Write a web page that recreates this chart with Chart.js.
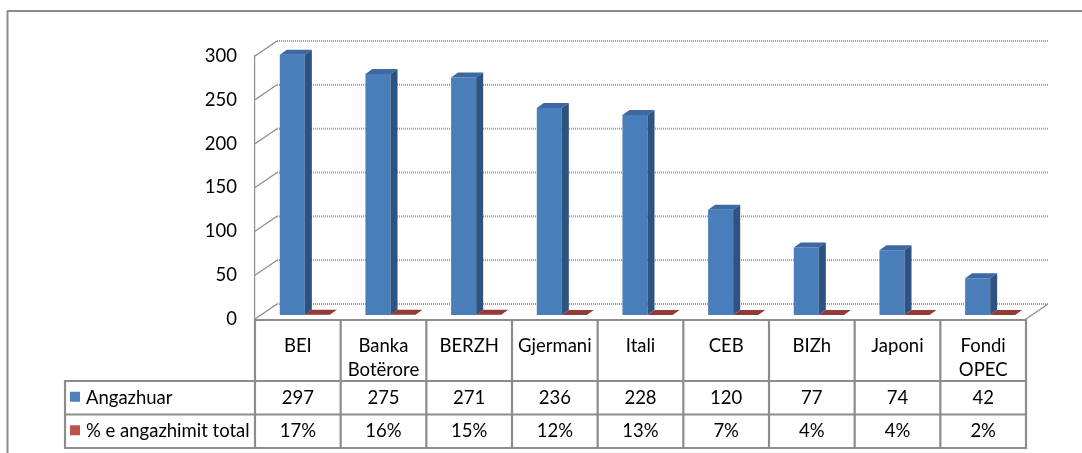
<!DOCTYPE html>
<html>
<head>
<meta charset="utf-8">
<script src="https://cdn.jsdelivr.net/npm/chart.js@4.4.1/dist/chart.umd.min.js"></script>
<style>
  html, body { margin: 0; padding: 0; background: #fff; }
  #wrap { width: 1082px; height: 453px; }
</style>
</head>
<body>
<div id="wrap"><canvas id="chart" width="1082" height="453"></canvas></div>
<script>
const categorias = ["BEI", ["Banka", "Botërore"], "BERZH", "Gjermani", "Itali", "CEB", "BIZh", "Japoni", ["Fondi", "OPEC"]];
const angazhuar  = [297, 275, 271, 236, 228, 120, 77, 74, 42];
const perqindja  = [0.17, 0.16, 0.15, 0.12, 0.13, 0.07, 0.04, 0.04, 0.02];
const yTicks     = [0, 50, 100, 150, 200, 250, 300];
const seriNames  = ["Angazhuar", "% e angazhimit total"];

const CORES = {
  blue:     "#4a7ebb",
  blueTop:  "#3d68a2",
  blueSide: "#2e5382",
  red:      "#943a36",
  redTop:   "#943a36",
  keyBlue:  "#4f81bd",
  keyRed:   "#c0504d",
  grid:     "#9a9a9a",
  axis:     "#8a8a8a",
  table:    "#8c8c8c",
  text:     "#000000",
};

const FONT      = "Lato";
const FONT_SIZE = 18.5;
const WALL      = { x: 22, y: -15 };  // back wall offset
const BAR_SHIFT = { x: 7,  y: -4 };   // bars sit a bit behind the front plane
const BAR_DEPTH = { x: 7,  y: -5 };
const TABLE     = { catH: 61, rowH: 33.5, keyLeft: 65 };

function poly(ctx, pts, color) {
  ctx.fillStyle = color;
  ctx.beginPath();
  ctx.moveTo(pts[0][0], pts[0][1]);
  pts.slice(1).forEach(p => ctx.lineTo(p[0], p[1]));
  ctx.closePath();
  ctx.fill();
}

function line(ctx, x1, y1, x2, y2) {
  ctx.beginPath();
  ctx.moveTo(x1, y1);
  ctx.lineTo(x2, y2);
  ctx.stroke();
}

const pamje3d = {
  id: "pamje3d",
  beforeDraw(chart) {
    const ctx = chart.ctx;
    ctx.save();
    ctx.strokeStyle = CORES.table;
    ctx.lineWidth = 2;
    line(ctx, 7, 11, chart.width, 11);
    line(ctx, 7.5, 11, 7.5, chart.height);
    ctx.restore();
  },
  beforeDatasetsDraw(chart) {
    const { ctx, chartArea: a, scales: { y } } = chart;
    ctx.save();
    ctx.strokeStyle = CORES.grid;
    ctx.lineWidth = 2;
    ctx.setLineDash([1, 1]);
    yTicks.forEach(v => {
      const py = y.getPixelForValue(v) + WALL.y;
      line(ctx, a.left + WALL.x, py, a.right + WALL.x, py);
    });
    ctx.setLineDash([]);
    ctx.strokeStyle = CORES.axis;
    ctx.lineWidth = 1.2;
    yTicks.forEach(v => {
      const py = y.getPixelForValue(v);
      line(ctx, a.left, py, a.left + WALL.x, py + WALL.y);
    });
    line(ctx, a.right, a.bottom, a.right + WALL.x, a.bottom + WALL.y);
    ctx.restore();

    ctx.save();
    ctx.translate(BAR_SHIFT.x, BAR_SHIFT.y);
  },
  afterDatasetsDraw(chart) {
    const ctx = chart.ctx;
    chart.data.datasets.forEach((ds, i) => {
      chart.getDatasetMeta(i).data.forEach(bar => {
        const { x, y, base, width } = bar.getProps(["x", "y", "base", "width"], true);
        const l = x - width / 2, r = x + width / 2;
        const dx = BAR_DEPTH.x, dy = BAR_DEPTH.y;
        poly(ctx, [[l, y], [r, y], [r + dx, y + dy], [l + dx, y + dy]], ds.topColor);
        if (base - y > 1) {
          poly(ctx, [[r, y], [r + dx, y + dy], [r + dx, base + dy], [r, base]], ds.sideColor);
        }
      });
    });
    ctx.restore();
  },
  afterDraw(chart) {
    const { ctx, chartArea: a, scales: { x } } = chart;
    const colW = (a.right - a.left) / categorias.length;
    const r0 = a.bottom + 1;
    const r1 = r0 + TABLE.catH;
    const r2 = r1 + TABLE.rowH;
    const r3 = r2 + TABLE.rowH;

    ctx.save();
    ctx.strokeStyle = CORES.table;
    ctx.lineWidth = 2.2;
    line(ctx, a.left, r0, a.right, r0);
    [r1, r2, r3].forEach(ry => line(ctx, TABLE.keyLeft, ry, a.right, ry));
    for (let i = 0; i <= categorias.length; i++) {
      const cx = a.left + i * colW;
      line(ctx, cx, r0 - 1, cx, r3 + 1);
    }
    line(ctx, TABLE.keyLeft, r1 - 1, TABLE.keyLeft, r3 + 1);

    ctx.font = `${FONT_SIZE}px ${FONT}`;
    ctx.fillStyle = CORES.text;
    ctx.textBaseline = "middle";
    ctx.textAlign = "center";
    const mid1 = (r1 + r2) / 2, mid2 = (r2 + r3) / 2;
    categorias.forEach((_, i) => {
      const px = x.getPixelForValue(i);
      ctx.fillText(String(angazhuar[i]), px, mid1);
      ctx.fillText(Math.round(perqindja[i] * 100) + "%", px, mid2);
    });

    // legend keys inside the table
    ctx.textAlign = "left";
    [[seriNames[0], CORES.keyBlue, mid1], [seriNames[1], CORES.keyRed, mid2]].forEach(([txt, c, my]) => {
      ctx.fillStyle = c;
      ctx.fillRect(TABLE.keyLeft + 5, my - 6, 10, 10);
      ctx.fillStyle = CORES.text;
      ctx.fillText(txt, TABLE.keyLeft + 21, my);
    });
    ctx.restore();
  }
};

new Chart(document.getElementById("chart"), {
  type: "bar",
  data: {
    labels: categorias,
    datasets: [
      {
        label: seriNames[0],
        data: angazhuar,
        backgroundColor: CORES.blue,
        topColor: CORES.blueTop,
        sideColor: CORES.blueSide,
        categoryPercentage: 0.585,
        barPercentage: 1,
      },
      {
        label: seriNames[1],
        data: perqindja,
        backgroundColor: CORES.red,
        topColor: CORES.redTop,
        sideColor: CORES.red,
        categoryPercentage: 0.585,
        barPercentage: 1,
      }
    ]
  },
  options: {
    responsive: false,
    animation: false,
    layout: { padding: { top: 56, right: 56, left: 0, bottom: 0 } },
    plugins: {
      legend: { display: false },
      tooltip: { enabled: false }
    },
    scales: {
      x: {
        grid: { display: false, drawTicks: false },
        border: { display: false },
        ticks: {
          color: CORES.text,
          font: { family: FONT, size: FONT_SIZE, lineHeight: 1.3 },
          padding: 15,
          maxRotation: 0,
          autoSkip: false
        },
        afterFit: s => { s.height = 134; }
      },
      y: {
        min: 0,
        max: 300,
        afterBuildTicks: s => { s.ticks = yTicks.map(v => ({ value: v })); },
        grid: { display: false, drawTicks: false },
        border: { display: true, color: CORES.axis, width: 1.2 },
        ticks: {
          color: CORES.text,
          font: { family: FONT, size: FONT_SIZE },
          padding: 18
        },
        afterFit: s => { s.width = 255; }
      }
    }
  },
  plugins: [pamje3d]
});
</script>
</body>
</html>
